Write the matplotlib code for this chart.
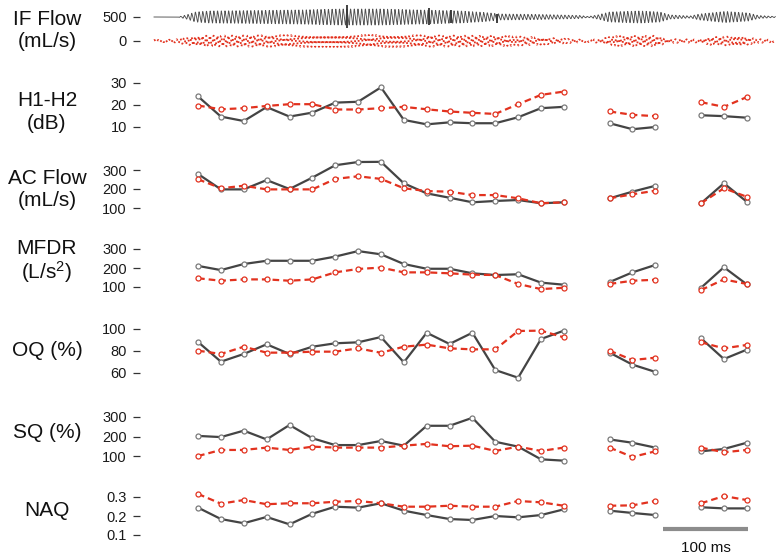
import numpy as np
import matplotlib.pyplot as plt

plt.rcParams['font.family'] = ['Liberation Sans', 'DejaVu Sans']
plt.rcParams['mathtext.fontset'] = 'custom'
plt.rcParams['mathtext.rm'] = 'Liberation Sans'
plt.rcParams['mathtext.it'] = 'Liberation Sans'

# -------------------------
# Data
# -------------------------
nan = np.nan
# measurement points: 17 + gap + 3 + gap + 3
h1h2_a = [23.8, 14.7, 12.7, 19.0, 14.7, 16.5, 21.0, 21.4, 27.9, 13.2, 11.2, 12.1, 11.7, 11.7, 14.4, 18.5, 19.1,
          nan, 11.7, 9.0, 10.0, nan, 15.3, 14.9, 14.2]
h1h2_b = [19.7, 18.0, 18.5, 19.5, 20.3, 20.3, 17.9, 17.9, 18.5, 19.1, 18.0, 17.0, 16.4, 15.9, 20.3, 24.5, 26.0,
          nan, 17.0, 15.5, 14.9, nan, 21.2, 19.1, 23.5]
acflow_a = [279, 198, 198, 247, 200, 260, 325, 342, 343, 230, 177, 154, 130, 137, 142, 125, 130,
            nan, 151, 186, 217, nan, 125, 230, 133]
acflow_b = [251, 204, 217, 198, 198, 198, 253, 267, 253, 204, 189, 186, 168, 168, 151, 125, 130,
            nan, 151, 172, 191, nan, 125, 204, 159]
mfdr_a = [211, 189, 221, 238, 238, 238, 260, 289, 272, 221, 196, 196, 172, 163, 167, 123, 112,
          nan, 126, 177, 216, nan, 96, 204, 114]
mfdr_b = [146, 133, 140, 140, 133, 140, 177, 195, 202, 177, 177, 172, 165, 163, 116, 89, 96,
          nan, 116, 133, 138, nan, 84, 140, 116]
oq_a = [88.2, 70.3, 77.3, 86.1, 77.3, 83.9, 87.0, 87.9, 92.7, 69.7, 96.6, 86.4, 96.6, 62.7, 55.7, 90.9, 98.5,
        nan, 78.5, 67.6, 61.0, nan, 91.5, 72.7, 81.2]
oq_b = [80.3, 77.3, 83.9, 78.5, 78.5, 79.4, 79.4, 82.4, 78.4, 83.9, 85.8, 82.4, 81.5, 81.5, 98.2, 98.5, 92.4,
        nan, 80.3, 71.8, 73.9, nan, 87.9, 82.4, 85.5]
sq_a = [203, 197, 230, 185, 259, 191, 156, 156, 177, 153, 255, 255, 296, 173, 148, 83, 76,
        nan, 185, 168, 143, nan, 124, 136, 168]
sq_b = [100, 131, 131, 143, 131, 148, 143, 143, 143, 153, 162, 150, 153, 126, 148, 126, 143,
        nan, 143, 95, 124, nan, 143, 119, 131]
naq_a = [0.244, 0.184, 0.162, 0.195, 0.156, 0.212, 0.249, 0.244, 0.267, 0.228, 0.205, 0.184, 0.179, 0.200, 0.193, 0.205, 0.235,
         nan, 0.228, 0.216, 0.205, nan, 0.246, 0.240, 0.240]
naq_b = [0.316, 0.265, 0.284, 0.262, 0.267, 0.267, 0.275, 0.279, 0.267, 0.249, 0.249, 0.254, 0.249, 0.249, 0.279, 0.272, 0.254,
         nan, 0.254, 0.256, 0.279, nan, 0.267, 0.305, 0.284]

# flow waveform envelope (ms, mL/s half amplitude)
env_a_t = [0, 28, 38, 49, 66, 125, 172, 219, 266, 313, 360, 389, 407, 454, 501, 511, 522, 536, 572, 595, 607, 631, 642, 672, 699, 711, 731]
env_a_v = [0, 0, 42, 104, 125, 135, 146, 166, 166, 146, 125, 94, 62, 52, 31, 10, 42, 104, 125, 104, 42, 21, 62, 115, 83, 31, 10]
env_b_t = [0, 25, 40, 60, 150, 260, 350, 420, 460, 490, 510, 525, 540, 590, 605, 640, 655, 690, 710, 731]
env_b_v = [20, 30, 80, 110, 120, 125, 115, 100, 70, 40, 20, 40, 100, 110, 40, 30, 80, 100, 40, 20]
spike_t = [227, 323, 349, 403]
spike_lo = [-230, -170, -130, -120]
spike_hi = [260, 180, 150, 60]
F0 = 230.0          # Hz
FLOW_OFFSET = 500   # black trace shifted up

T0, DT = 51.8, 26.9   # first sample time and spacing (ms)
X_LIM = (-16.5, 736.5)

W, H = 781, 558
fig = plt.figure(figsize=(W / 100, H / 100), dpi=100)

DARK = '#444444'
RED = '#e2321f'


def panel(v_lo, px_lo, v_hi, px_hi, top, bot):
    scale = (px_lo - px_hi) / (v_hi - v_lo)
    ymax = v_hi + (px_hi - top) / scale
    ymin = v_lo - (bot - px_lo) / scale
    ax = fig.add_axes([140 / W, 1 - bot / H, (780 - 140) / W, (bot - top) / H])
    ax.set_facecolor('none')
    ax.set_xlim(*X_LIM)
    ax.set_ylim(ymin, ymax)
    for s in ax.spines.values():
        s.set_visible(False)
    ax.xaxis.set_visible(False)
    ax.tick_params(axis='y', length=5, width=0.9, color='#333333', pad=4.5,
                   labelsize=10.5, labelcolor='#1a1a1a')
    return ax


def label(txt, y, ls=1.25):
    fig.text(47 / W, 1 - y / H, txt, ha='center', va='center', fontsize=15,
             multialignment='center', linespacing=ls, color='#111111')


t_pts = T0 + DT * np.arange(len(h1h2_a))


def draw_pts(ax, a, b):
    ax.plot(t_pts, a, '-', color=DARK, lw=1.6, marker='o', ms=3.6,
            mfc='white', mec='#7a7a7a', mew=0.9, clip_on=False, zorder=3)
    ax.plot(t_pts, b, '--', color=RED, lw=1.6, dashes=(3, 1.8), marker='o', ms=3.6,
            mfc='white', mec=RED, mew=0.9, clip_on=False, zorder=4)


# IF flow waveform
ax = panel(0, 41, 500, 17, 2, 55)
ax.set_yticks([0, 500])
t = np.arange(0, 731, 0.05)
ph = 2 * np.pi * F0 * t / 1000.0
env_a = np.interp(t, env_a_t, env_a_v)
env_b = np.interp(t, env_b_t, env_b_v)
ax.plot(t, FLOW_OFFSET + env_a * (np.sin(ph) + 0.25 * np.sin(2 * ph)) / 1.1,
        color='#505050', lw=0.65)
ax.vlines(spike_t, [FLOW_OFFSET + v for v in spike_lo], [FLOW_OFFSET + v for v in spike_hi],
          color='#333333', lw=1.3)
ax.plot(t, env_b * np.sin(ph + 0.8), color=RED, lw=1.3, ls=':')
label('IF Flow\n(mL/s)', 30.5)

ax = panel(10, 127, 30, 82.7, 72, 138)
ax.set_yticks([10, 20, 30])
draw_pts(ax, h1h2_a, h1h2_b)
label('H1-H2\n(dB)', 112)

ax = panel(100, 208, 300, 170, 158, 218)
ax.set_yticks([100, 200, 300])
draw_pts(ax, acflow_a, acflow_b)
label('AC Flow\n(mL/s)', 189.5)

ax = panel(100, 287, 300, 249, 240, 297)
ax.set_yticks([100, 200, 300])
draw_pts(ax, mfdr_a, mfdr_b)
label('MFDR\n(L/s$^2$)', 262, ls=1.05)

ax = panel(60, 373, 100, 329, 322, 385)
ax.set_yticks([60, 80, 100])
draw_pts(ax, oq_a, oq_b)
label('OQ (%)', 350)

ax = panel(100, 456, 300, 417, 410, 466)
ax.set_yticks([100, 200, 300])
draw_pts(ax, sq_a, sq_b)
label('SQ (%)', 433)

ax = panel(0.1, 535, 0.3, 497, 488, 540)
ax.set_yticks([0.1, 0.2, 0.3])
ax.set_yticklabels(['0.1', '0.2', '0.3'])
draw_pts(ax, naq_a, naq_b)
label('NAQ', 510)

# 100 ms scale bar
SCALE_MS = 100
bar_x0 = 598.8
bar_y = 0.1 - (529 - 535) / 190.0
ax.plot([bar_x0, bar_x0 + SCALE_MS], [bar_y, bar_y], color='#8c8c8c', lw=3,
        clip_on=False, solid_capstyle='butt')
ax.annotate('100 ms', xy=(bar_x0 + SCALE_MS / 2, bar_y), xytext=(0, -14),
            textcoords='offset points', ha='center', va='center', fontsize=11,
            annotation_clip=False, color='#111111')

fig.savefig('out.png', dpi=100)
